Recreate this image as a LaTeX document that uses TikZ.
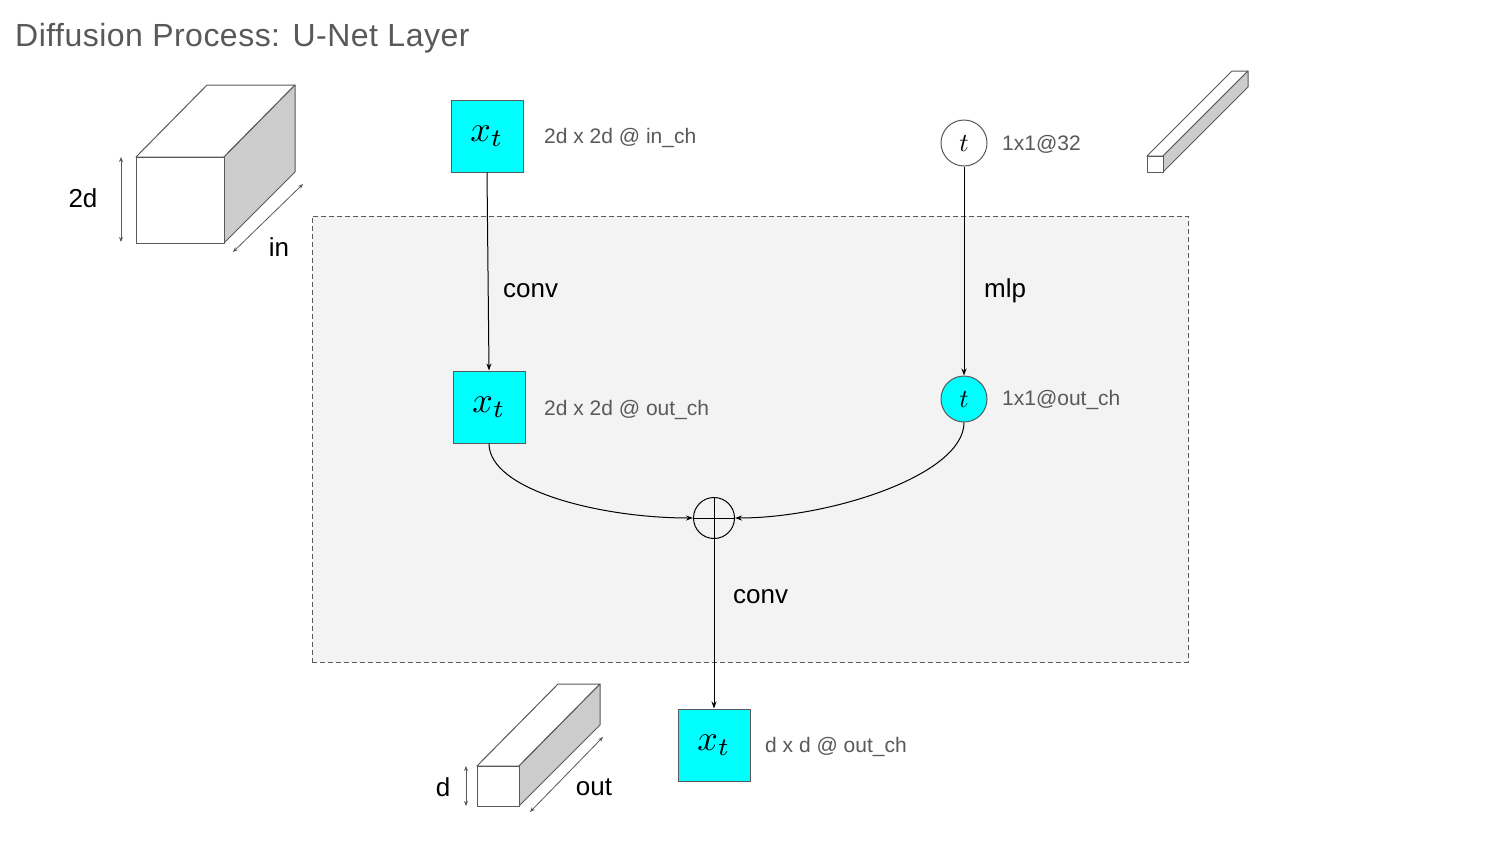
\documentclass[tikz,border=0pt]{standalone}
\usepackage{graphicx}
\usepackage{fontspec}
\setmainfont{Liberation Sans}
\usetikzlibrary{arrows.meta}
\definecolor{txtgray}{HTML}{595959}
\definecolor{boxcyan}{HTML}{00FFFF}
\definecolor{panelbg}{HTML}{F3F3F3}
\definecolor{sideface}{HTML}{CCCCCC}
\newcommand{\bigmath}[2]{\scalebox{#1}{$#2$}}
\tikzset{
  xbox/.style={draw=txtgray, fill=boxcyan, line width=1pt, minimum size=72pt, inner sep=0pt},
  tcirc/.style={circle, draw=txtgray, line width=1pt, minimum size=46pt, inner sep=0pt},
  graylabel/.style={anchor=west, inner sep=0pt, text=txtgray, font=\fontsize{21}{25}\selectfont},
  blacklabel/.style={inner sep=0pt, text=black, font=\fontsize{26}{31}\selectfont},
  arr/.style={draw=black, line width=1pt, -{Stealth[length=7pt,width=5pt]}},
  dimarr/.style={draw=txtgray, line width=0.8pt, {Stealth[length=5pt,width=4pt]}-{Stealth[length=5pt,width=4pt]}},
  cube/.style={draw=txtgray, line width=1pt, line join=round},
}
\begin{document}
\begin{tikzpicture}[x=1pt,y=-1pt]
\useasboundingbox (0,0) rectangle (1500,844);
\fill[white] (0,0) rectangle (1500,844);

% title
\node[anchor=base west, inner sep=0pt, text=txtgray, font=\fontsize{32}{38}\selectfont\addfontfeature{LetterSpace=1.5}] (title) at (15,46) {Diffusion Process: U-Net Layer};

% panel
\node[draw=txtgray, fill=panelbg, line width=1pt, dash pattern=on 5pt off 3pt, minimum width=876pt, minimum height=446pt, inner sep=0pt] (panel) at (750,439) {};

% big cube (2d x 2d @ in)
\filldraw[cube, fill=white] (136,157) -- (207,85) -- (295,85) -- (224,157) -- cycle;
\filldraw[cube, fill=sideface] (224,157) -- (295,85) -- (295,172) -- (224,243) -- cycle;
\filldraw[cube, fill=white] (136,157) rectangle (224,243);
\coordinate (bc2dA) at (121,157);
\coordinate (bc2dB) at (121,242);
\draw[dimarr] (bc2dA) -- (bc2dB);
\coordinate (bcinA) at (233,252);
\coordinate (bcinB) at (303,184);
\draw[dimarr] (bcinA) -- (bcinB);
\node[blacklabel] (lab2d) at (83,198) {2d};
\node[blacklabel] (labin) at (279,247) {in};

% small cube (d x d @ out)
\filldraw[cube, fill=white] (477,766) -- (558,684) -- (600,684) -- (519,766) -- cycle;
\filldraw[cube, fill=sideface] (519,766) -- (600,684) -- (600,725) -- (519,806) -- cycle;
\filldraw[cube, fill=white] (477,766) rectangle (519,806);
\coordinate (scdA) at (466,766);
\coordinate (scdB) at (466,806);
\draw[dimarr] (scdA) -- (scdB);
\coordinate (scoutA) at (530,812);
\coordinate (scoutB) at (603,737);
\draw[dimarr] (scoutA) -- (scoutB);
\node[blacklabel] (labd) at (443,787) {d};
\node[blacklabel] (labout) at (594,787) {out};

% thin bar (1x1 @ 32)
\filldraw[cube, fill=white] (1147,156) -- (1232,71) -- (1248,71) -- (1163,156) -- cycle;
\filldraw[cube, fill=sideface] (1163,156) -- (1248,71) -- (1248,87) -- (1163,172) -- cycle;
\filldraw[cube, fill=white] (1147,156) rectangle (1163,172);

% main nodes
\node[xbox] (xin) at (487,136) {\bigmath{3.6}{x_t}};
\node[xbox] (xmid) at (489,407) {\bigmath{3.6}{x_t}};
\node[xbox] (xout) at (714,745) {\bigmath{3.6}{x_t}};
\node[tcirc, fill=white] (tin) at (964,143) {\bigmath{2.6}{t}};
\node[tcirc, fill=boxcyan] (tmid) at (964,399) {\bigmath{2.6}{t}};
\node[circle, draw=black, line width=1pt, minimum size=41pt, inner sep=0pt] (plus) at (714,518) {};
\draw[line width=1pt] (plus.north) -- (plus.south);
\draw[line width=1pt] (plus.west) -- (plus.east);

% size labels
\node[graylabel] (lxin) at (544,138) {2d x 2d @ in\_ch};
\node[graylabel] (lxmid) at (544,410) {2d x 2d @ out\_ch};
\node[graylabel] (lxout) at (765,747) {d x d @ out\_ch};
\node[graylabel] (ltin) at (1002,144) {1x1@32};
\node[graylabel] (ltmid) at (1002,400) {1x1@out\_ch};

% connectors
\draw[arr] (xin.south) -- (xmid.north);
\draw[arr] (tin.south) -- (tmid.north);
\draw[arr] (xmid.south) .. controls (489,490) and (600,518) .. (plus.west);
\draw[arr] (tmid.south) .. controls (964,475) and (830,518) .. (plus.east);
\draw[arr] (plus.south) -- (xout.north);

% operation labels
\node[blacklabel, anchor=west] (lconv1) at (503,291) {conv};
\node[blacklabel, anchor=west] (lmlp) at (984,291) {mlp};
\node[blacklabel, anchor=west] (lconv2) at (733,597) {conv};
\end{tikzpicture}
\end{document}
